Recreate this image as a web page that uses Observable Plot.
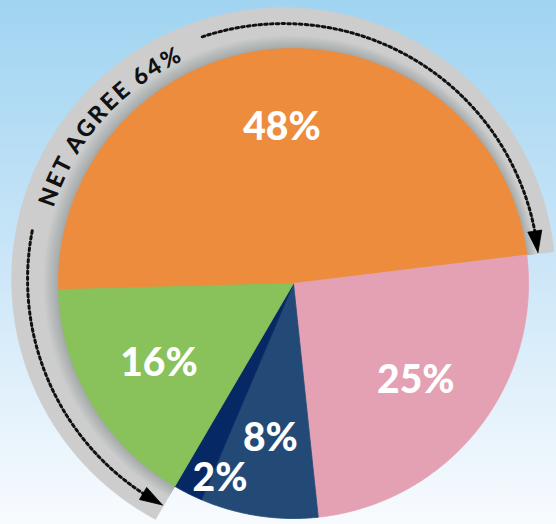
<!DOCTYPE html>
<html><head><meta charset="utf-8">
<script src="https://cdn.jsdelivr.net/npm/d3@7"></script>
<script src="https://cdn.jsdelivr.net/npm/@observablehq/plot@0.6"></script>
<style>
html,body{margin:0;padding:0;}
#chart{width:556px;height:524px;background:linear-gradient(to bottom,#a0d4f1 0%,#cbe6f8 50%,#f8fbfe 100%);overflow:hidden;}
#chart svg{display:block;}
</style></head><body><div id="chart"></div>
<script>
// ---- data ----
const categories = ["Agree", "Neutral", "Disagree", "Strongly disagree", "Strongly agree"];
const values = [48, 25, 8, 2, 16];
const labels = ["48%", "25%", "8%", "2%", "16%"];
const colors = ["#ed8c3d", "#e4a1b4", "#234a77", "#062966", "#89c15a"];
const netAgreeIdx = [4, 0];
const netLabel = "NET AGREE 64%";

// ---- geometry helpers ----
const W = 556, H = 524, mL = 58, mR = 28, mT = 48, mB = 6;
const START = -91.5;
const total = d3.sum(values);
const rad = d => d * Math.PI / 180;
const pt = (deg, r) => ({x: r * Math.sin(rad(deg)), y: r * Math.cos(rad(deg))});
const ringC = {x: -0.0426, y: 0.017};
function rayTo(deg, R) { // distance from pie centre along deg to circle (ringC, R)
  const ux = Math.sin(rad(deg)), uy = Math.cos(rad(deg));
  const b = ux * ringC.x + uy * ringC.y;
  return b + Math.sqrt(b * b - (ringC.x ** 2 + ringC.y ** 2) + R * R);
}
function range(a0, a1, step = 0.5) {
  const n = Math.max(2, Math.ceil(Math.abs(a1 - a0) / step));
  return d3.range(n + 1).map(k => a0 + (a1 - a0) * k / n);
}

let acc = START;
const slices = values.map((v, i) => {
  const a0 = acc, a1 = acc + v / total * 360; acc = a1;
  return {i, v, a0, a1, mid: (a0 + a1) / 2, color: colors[i], label: labels[i], category: categories[i]};
});

const piePts = slices.flatMap(s => [
  {id: s.i, color: s.color, x: 0, y: 0},
  ...range(s.a0, s.a1).map(a => ({id: s.i, color: s.color, ...pt(a, 1)})),
  {id: s.i, color: s.color, x: 0, y: 0}
]);

const ringA0 = slices[netAgreeIdx[0]].a0 - 360;
const ringA1 = slices[netAgreeIdx[1]].a1;
const R_OUT = 1.157, R_DOT = 1.089, R_TXT = 1.022;

const ringPts = [{id: "ring", color: "#cdcdcd", x: 0, y: 0},
  ...range(ringA0, ringA1).map(a => ({id: "ring", color: "#cdcdcd", ...pt(a, rayTo(a, R_OUT))})),
  {id: "ring", color: "#cdcdcd", x: 0, y: 0}];

const shade = d3.interpolateRgb("#cbcccc", "#a5aaaa");
const nb = 9;
const bandPts = d3.range(nb).flatMap(k => {
  const f = 0.34 - k * 0.038, col = shade(k / (nb - 1)), id = "b" + k;
  return [{id, color: col, x: 0, y: 0},
    ...range(ringA0, ringA1).map(a => ({id, color: col, ...pt(a, 1 + f * (rayTo(a, R_OUT) - 1))})),
    {id, color: col, x: 0, y: 0}];
});

// dotted arrows (angles around pie centre, radius around ring centre)
const headDeg = 5, headHW = 0.03;
function arrow(id, aStart, aTip) {
  const dir = Math.sign(aTip - aStart);
  const aBase = aTip - dir * headDeg;
  const P = a => pt(a, rayTo(a, R_DOT));
  const line = range(aStart, aBase).map(a => ({id, ...P(a)}));
  const T = P(aTip), B = P(aBase);
  let tx = T.x - B.x, ty = T.y - B.y; const L = Math.hypot(tx, ty); tx /= L; ty /= L;
  const nx = -ty, ny = tx;
  const head = [T, {x: B.x + nx * headHW, y: B.y + ny * headHW}, {x: B.x - nx * headHW, y: B.y - ny * headHW}, T]
    .map(p => ({id, ...p}));
  return {line, head};
}
const arrTop = arrow("top", -20.3, ringA1 - 0.3);
const arrLeft = arrow("left", -78.6, ringA0 + 0.3);

const labelData = slices.map(s => {
  const small = s.v < 5;
  const a = small ? s.mid - 6 : s.mid;
  const r = small ? 0.885 : 0.665;
  return {...pt(a, r), label: s.label};
});

const plot = Plot.plot({
  width: W, height: H,
  marginLeft: mL, marginRight: mR, marginTop: mT, marginBottom: mB,
  x: {domain: [-1, 1], axis: null},
  y: {domain: [-1, 1], axis: null},
  color: {type: "identity"},
  style: {background: "transparent", overflow: "visible"},
  marks: [
    Plot.line(ringPts, {x: "x", y: "y", z: "id", fill: "color", stroke: "color", strokeWidth: 0.5}),
    Plot.line(bandPts, {x: "x", y: "y", z: "id", fill: "color", stroke: "none"}),
    Plot.line(piePts, {x: "x", y: "y", z: "id", fill: "color", stroke: "color", strokeWidth: 0.8, strokeLinejoin: "round"}),
    Plot.line([...arrTop.line, ...arrLeft.line], {x: "x", y: "y", z: "id", stroke: "#111", strokeWidth: 3, strokeDasharray: "2.6,3.2"}),
    Plot.line([...arrTop.head, ...arrLeft.head], {x: "x", y: "y", z: "id", fill: "#000", stroke: "#000", strokeWidth: 0.8}),
    Plot.text(labelData, {x: "x", y: "y", text: "label", fill: "white", fontSize: 39, fontWeight: 900,
      fontFamily: "Lato, 'Open Sans', sans-serif"})
  ]
});

// curved "NET AGREE" text along the ring, positioned via the plot's scales
const sx = plot.scale("x"), sy = plot.scale("y");
const fx = sx.apply ? sx.apply : d3.scaleLinear(sx.domain, sx.range);
const fy = sy.apply ? sy.apply : d3.scaleLinear(sy.domain, sy.range);
const cxp = fx(ringC.x), cyp = fy(ringC.y), rp = R_TXT * (fx(1) - fx(0));
const sp = a => [cxp + rp * Math.sin(rad(a)), cyp - rp * Math.cos(rad(a))];
const tA0 = -89.5, tA1 = -7.5;
const ns = "http://www.w3.org/2000/svg";
const svg = plot.tagName.toLowerCase() === "svg" ? plot : plot.querySelector("svg");
const defs = document.createElementNS(ns, "defs");
const path = document.createElementNS(ns, "path");
const [x0, y0] = sp(tA0), [x1, y1] = sp(tA1);
path.setAttribute("id", "netArc");
path.setAttribute("d", `M${x0},${y0} A${rp},${rp} 0 0 1 ${x1},${y1}`);
defs.appendChild(path);
svg.appendChild(defs);
const txt = document.createElementNS(ns, "text");
txt.setAttribute("font-family", "Lato, 'Open Sans', sans-serif");
txt.setAttribute("font-size", "23");
txt.setAttribute("font-weight", "900");
txt.setAttribute("letter-spacing", "2.3");
txt.setAttribute("fill", "#111");
const tp = document.createElementNS(ns, "textPath");
tp.setAttribute("href", "#netArc");
tp.setAttribute("startOffset", "50%");
tp.setAttribute("text-anchor", "middle");
tp.textContent = netLabel;
txt.appendChild(tp);
svg.appendChild(txt);

document.getElementById("chart").appendChild(plot);
</script></body></html>
